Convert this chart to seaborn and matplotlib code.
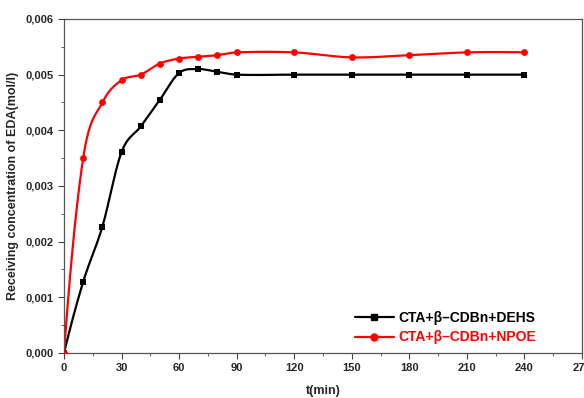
import numpy as np, pandas as pd, matplotlib
matplotlib.use("Agg")
import matplotlib.pyplot as plt
import seaborn as sns
from matplotlib.lines import Line2D
from matplotlib.ticker import MultipleLocator, FuncFormatter

sns.set_style("ticks")
plt.rcParams["font.family"] = ["Liberation Sans", "DejaVu Sans"]
plt.rcParams["font.weight"] = "bold"

# Data
t_min   = [0, 10, 20, 30, 40, 50, 60, 70, 80, 90, 120, 150, 180, 210, 240]
c_dehs  = [0, 0.00128, 0.00227, 0.00361, 0.00407, 0.00455, 0.00503, 0.00510,
           0.00505, 0.00500, 0.00500, 0.00500, 0.00500, 0.00500, 0.00500]
c_npoe  = [0, 0.00350, 0.00450, 0.00490, 0.00500, 0.00520, 0.00529, 0.00532,
           0.00535, 0.00540, 0.00540, 0.00531, 0.00535, 0.00540, 0.00540]
labels  = ["CTA+β–CDBn+DEHS", "CTA+β–CDBn+NPOE"]
colors  = ["black", "red"]
markers = ["s", "o"]


def smooth_line(x, y, n=600):
    # cardinal (Catmull-Rom style) Hermite curve, only used to draw the connecting line
    x = np.asarray(x, float); y = np.asarray(y, float)
    h = np.diff(x); d = np.diff(y) / h
    m = np.zeros_like(y)
    m[1:-1] = (y[2:] - y[:-2]) / (x[2:] - x[:-2])
    m[0] = ((2*h[0] + h[1])*d[0] - h[0]*d[1]) / (h[0] + h[1])
    m[-1] = ((2*h[-1] + h[-2])*d[-1] - h[-1]*d[-2]) / (h[-1] + h[-2])
    xs = np.linspace(x[0], x[-1], n)
    idx = np.clip(np.searchsorted(x, xs) - 1, 0, len(x) - 2)
    s = (xs - x[idx]) / h[idx]
    h00, h10 = 2*s**3 - 3*s**2 + 1, s**3 - 2*s**2 + s
    h01, h11 = -2*s**3 + 3*s**2, s**3 - s**2
    ys = h00*y[idx] + h10*h[idx]*m[idx] + h01*y[idx+1] + h11*h[idx]*m[idx+1]
    return xs, ys


fig = plt.figure(figsize=(5.84, 3.98), dpi=100)
ax = fig.add_axes([0.1096, 0.1131, 0.887, 0.8392])

handles = []
for y, lab, col, mk in zip([c_dehs, c_npoe], labels, colors, markers):
    xs, ys = smooth_line(t_min, y)
    sns.lineplot(x=xs, y=ys, color=col, lw=1.6, sort=False, ax=ax, legend=False)
    df = pd.DataFrame({"t": t_min, "c": y})
    sns.scatterplot(data=df, x="t", y="c", color=col, marker=mk,
                    s=18 if mk == "s" else 24,
                    edgecolor=col, linewidth=0, ax=ax, legend=False, zorder=3)
    handles.append(Line2D([], [], color=col, lw=1.6, marker=mk,
                          markersize=4.5 if mk == "s" else 5))

ax.set_xlim(0, 270); ax.set_ylim(0, 0.006)
ax.xaxis.set_major_locator(MultipleLocator(30))
ax.xaxis.set_minor_locator(MultipleLocator(15))
ax.yaxis.set_major_locator(MultipleLocator(0.001))
ax.yaxis.set_minor_locator(MultipleLocator(0.0005))
ax.yaxis.set_major_formatter(FuncFormatter(lambda v, p: f"{v:.3f}".replace(".", ",")))
ax.tick_params(which="both", direction="out", labelsize=8, color="#444444")
ax.tick_params(which="major", length=4)
ax.tick_params(which="minor", length=2.5)
for s in ax.spines.values():
    s.set_color("#555555"); s.set_linewidth(0.9)

ax.set_xlabel("t(min)", fontsize=9, fontweight="bold", labelpad=8.5)
ax.set_ylabel("Receiving concentration of EDA(mol/l)", fontsize=9, fontweight="bold", labelpad=5)

leg = ax.legend(handles, labels, loc="lower right", bbox_to_anchor=(0.935, -0.012),
                frameon=False, handlelength=2.8, handletextpad=0.3,
                labelspacing=0.4, prop={"weight": "bold", "size": 10})
for txt, col in zip(leg.get_texts(), colors):
    txt.set_color(col)

fig.savefig("out.png", dpi=100)
